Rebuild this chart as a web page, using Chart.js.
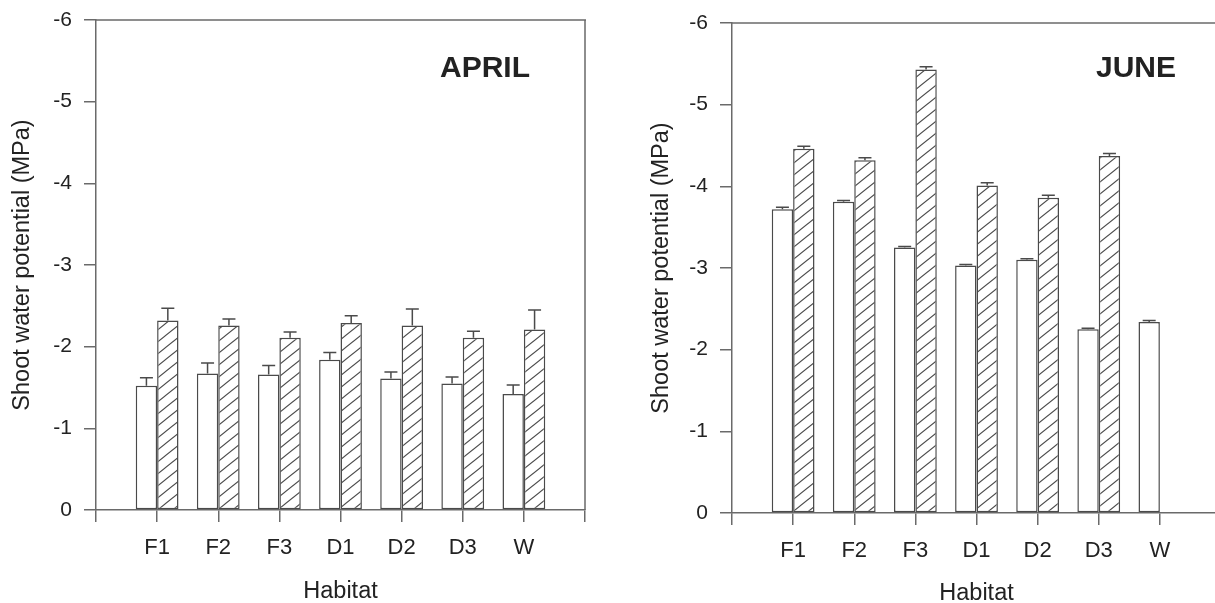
<!DOCTYPE html>
<html><head><meta charset="utf-8">
<script src="https://cdn.jsdelivr.net/npm/chart.js@4"></script>
<style>
html,body{margin:0;padding:0;background:#fff;overflow:hidden;width:1215px;height:603px;}
#c1{position:absolute;left:0;top:0;}
#c2{position:absolute;left:605px;top:2px;}
</style></head><body>
<canvas id="c1" width="605" height="603"></canvas>
<canvas id="c2" width="625" height="603"></canvas>
<script>
// ---- data ----
const habitats = ['F1','F2','F3','D1','D2','D3','W'];
const aprilOpen      = [-1.52,-1.67,-1.66,-1.84,-1.61,-1.55,-1.42];
const aprilOpenErr   = [0.10,0.13,0.11,0.09,0.08,0.08,0.11];
const aprilHatch     = [-2.32,-2.26,-2.11,-2.29,-2.26,-2.11,-2.21];
const aprilHatchErr  = [0.15,0.08,0.07,0.09,0.20,0.08,0.24];
const juneOpen       = [-3.72,-3.81,-3.25,-3.03,-3.10,-2.25,-2.34];
const juneOpenErr    = [0.025,0.016,0.012,0.012,0.012,0.012,0.016];
const juneHatch      = [-4.46,-4.32,-5.43,-4.01,-3.86,-4.37,null];
const juneHatchErr   = [0.03,0.03,0.033,0.033,0.03,0.033,null];
const yTicks = [-6,-5,-4,-3,-2,-1,0];
const yTitle = 'Shoot water potential (MPa)';
const xTitle = 'Habitat';

const FONT = '"Liberation Sans", Arial, sans-serif';
const AXIS = '#6a6a6a';
const BAR = '#4a4a4a';
const TEXT = '#222';

function hatchPattern() {
  const w = 15, h = 12;
  const c = document.createElement('canvas');
  c.width = w; c.height = h;
  const g = c.getContext('2d');
  g.fillStyle = '#fff'; g.fillRect(0,0,w,h);
  g.strokeStyle = '#4a4a4a'; g.lineWidth = 1.1;
  for (const dx of [-w, 0, w]) {
    g.beginPath(); g.moveTo(dx - w, 2*h); g.lineTo(dx + 2*w, -h); g.stroke();
  }
  return g.createPattern(c, 'repeat');
}

function pad(arr) { return [null, ...arr, null]; }

function makeChart(id, o) {
  const ctx = document.getElementById(id).getContext('2d');
  const errPlugin = {
    id: 'errbars',
    afterDatasetsDraw(chart) {
      const g = chart.ctx, ys = chart.scales.y;
      g.save(); g.strokeStyle = BAR; g.lineWidth = 1.5;
      chart.data.datasets.forEach((ds, i) => {
        const meta = chart.getDatasetMeta(i);
        ds.data.forEach((v, j) => {
          const e = ds.err[j];
          if (v == null || e == null) return;
          const el = meta.data[j];
          const y0 = ys.getPixelForValue(v), y1 = ys.getPixelForValue(v - e);
          g.beginPath();
          g.moveTo(el.x, y0); g.lineTo(el.x, y1);
          g.moveTo(el.x - 6.5, y1); g.lineTo(el.x + 6.5, y1);
          g.stroke();
        });
      });
      g.restore();
    }
  };
  const framePlugin = {
    id: 'frame',
    afterDraw(chart) {
      const g = chart.ctx, a = chart.chartArea;
      g.save(); g.strokeStyle = AXIS; g.lineWidth = 1.5;
      g.beginPath();
      g.moveTo(a.left, a.top); g.lineTo(a.right + 1, a.top);
      if (o.rightBorder) { g.moveTo(a.right, a.top); g.lineTo(a.right, a.bottom); }
      g.stroke();
      g.fillStyle = TEXT; g.font = 'bold 30px ' + FONT;
      g.textAlign = 'center'; g.textBaseline = 'middle';
      g.fillText(o.label, o.labelX, o.labelY);
      g.restore();
    }
  };
  return new Chart(ctx, {
    type: 'bar',
    data: {
      labels: ['', ...habitats, ''],
      datasets: [
        { data: pad(o.open), err: pad(o.openErr), backgroundColor: '#fff',
          borderColor: BAR, borderWidth: 1.5, borderSkipped: false,
          categoryPercentage: 0.7, barPercentage: 1.0 },
        { data: pad(o.hatch), err: pad(o.hatchErr), backgroundColor: hatchPattern(),
          borderColor: BAR, borderWidth: 1.5, borderSkipped: false,
          categoryPercentage: 0.7, barPercentage: 1.0 }
      ]
    },
    options: {
      responsive: false, animation: false, devicePixelRatio: 1,
      layout: { padding: { left: 0, top: o.top, right: o.right, bottom: 0 } },
      plugins: { legend: { display: false }, tooltip: { enabled: false } },
      scales: {
        x: {
          type: 'category', offset: false,
          grid: { display: true, offset: false, drawOnChartArea: false, drawTicks: true, tickLength: 12, color: AXIS, lineWidth: 1.5 },
          border: { display: true, color: AXIS, width: 1.5 },
          ticks: { autoSkip: false, maxRotation: 0, padding: 13, color: TEXT, font: { family: FONT, size: 22 } },
          title: { display: true, text: xTitle, color: TEXT, font: { family: FONT, size: 23.5 }, padding: { top: 0, bottom: -2.5 } },
          afterFit(s) { s.height = o.xHeight; s.paddingLeft = 0; s.paddingRight = 0; }
        },
        y: {
          min: -6, max: 0, reverse: true,
          afterBuildTicks(s) { s.ticks = yTicks.map(v => ({ value: v })); },
          grid: { display: true, drawOnChartArea: false, drawTicks: true, tickLength: 12, color: AXIS, lineWidth: 1.5 },
          border: { display: true, color: AXIS, width: 1.5 },
          ticks: { padding: 12, color: TEXT, font: { family: FONT, size: 21 } },
          title: { display: true, text: yTitle, color: TEXT, font: { family: FONT, size: 23.5 }, padding: { top: o.titlePad, bottom: 0 } },
          afterFit(s) { s.width = o.yWidth; s.paddingTop = 0; s.paddingBottom = 0; }
        }
      }
    },
    plugins: [errPlugin, framePlugin]
  });
}

makeChart('c1', { open: aprilOpen, openErr: aprilOpenErr, hatch: aprilHatch, hatchErr: aprilHatchErr,
  label: 'APRIL', labelX: 485, labelY: 69, top: 20, right: 20, xHeight: 93, yWidth: 96, titlePad: 8, rightBorder: true });
makeChart('c2', { open: juneOpen, openErr: juneOpenErr, hatch: juneHatch, hatchErr: juneHatchErr,
  label: 'JUNE', labelX: 531, labelY: 67, top: 21, right: 9, xHeight: 92, yWidth: 127, titlePad: 42, rightBorder: false });
</script>
</body></html>
